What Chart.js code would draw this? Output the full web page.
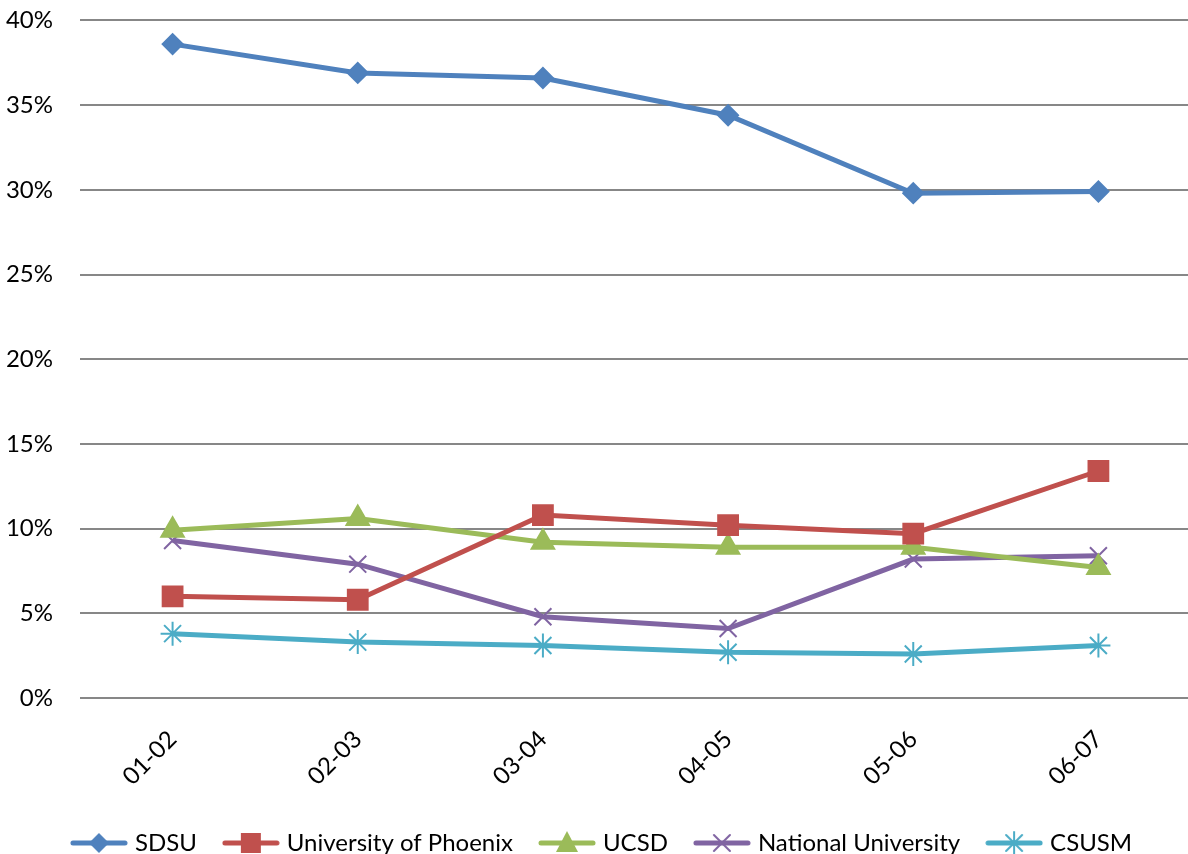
<!DOCTYPE html>
<html>
<head>
<meta charset="utf-8">
<script src="https://cdn.jsdelivr.net/npm/chart.js@4/dist/chart.umd.min.js"></script>
<style>
  html, body { margin: 0; padding: 0; background: #fff; overflow: hidden; }
  #wrap { width: 1188px; height: 854px; overflow: hidden; }
  #lineChart { display: block; margin-top: -21px; }
</style>
</head>
<body>
<div id="wrap"><canvas id="lineChart" width="1207" height="875"></canvas></div>
<script>
const years = ["01-02", "02-03", "03-04", "04-05", "05-06", "06-07"];
const sdsu = [38.6, 36.9, 36.6, 34.4, 29.8, 29.9];
const phoenix = [6.0, 5.8, 10.8, 10.2, 9.7, 13.4];
const ucsd = [9.9, 10.6, 9.2, 8.9, 8.9, 7.7];
const national = [9.3, 7.9, 4.8, 4.1, 8.2, 8.4];
const csusm = [3.8, 3.3, 3.1, 2.7, 2.6, 3.1];
const yTicks = [0, 5, 10, 15, 20, 25, 30, 35, 40];

const FONT = "Lato, 'Open Sans', Arial, sans-serif";

// legend icon: short line with the marker in the middle
function legendIcon(color, style) {
    const c = document.createElement('canvas');
    c.width = 58; c.height = 26;
    const g = c.getContext('2d');
    const cx = 29, cy = 13;
    g.strokeStyle = color;
    g.fillStyle = color;
    g.lineWidth = 5;
    g.lineCap = 'round';
    g.beginPath(); g.moveTo(3, cy); g.lineTo(55, cy); g.stroke();
    g.lineWidth = 2;
    g.beginPath();
    if (style === 'rectRot') {
        g.moveTo(cx, cy - 10); g.lineTo(cx + 10, cy); g.lineTo(cx, cy + 10); g.lineTo(cx - 10, cy); g.closePath(); g.fill();
    } else if (style === 'rect') {
        g.fillRect(cx - 10, cy - 10, 20, 20);
    } else if (style === 'triangle') {
        g.moveTo(cx, cy - 12); g.lineTo(cx + 11, cy + 9); g.lineTo(cx - 11, cy + 9); g.closePath(); g.fill();
    } else if (style === 'crossRot') {
        g.moveTo(cx - 8, cy - 8); g.lineTo(cx + 8, cy + 8);
        g.moveTo(cx + 8, cy - 8); g.lineTo(cx - 8, cy + 8); g.stroke();
    } else if (style === 'star') {
        g.moveTo(cx - 8, cy - 8); g.lineTo(cx + 8, cy + 8);
        g.moveTo(cx + 8, cy - 8); g.lineTo(cx - 8, cy + 8);
        g.moveTo(cx, cy - 11); g.lineTo(cx, cy + 11); g.stroke();
    }
    return c;
}

function series(label, data, color, style, radius) {
    return {
        label: label,
        data: data,
        borderColor: color,
        backgroundColor: color,
        borderWidth: 5,
        pointStyle: style,
        pointRadius: radius,
        pointBorderWidth: 2,
        pointBorderColor: color,
        pointBackgroundColor: color,
        tension: 0,
        icon: legendIcon(color, style)
    };
}

const ctx = document.getElementById('lineChart').getContext('2d');
new Chart(ctx, {
    type: 'line',
    data: {
        labels: years,
        datasets: [
            series('SDSU', sdsu, '#4F81BD', 'rectRot', 10),
            series('University of Phoenix', phoenix, '#C0504D', 'rect', 14),
            series('UCSD', ucsd, '#9BBB59', 'triangle', 13),
            series('National University', national, '#8064A2', 'crossRot', 12),
            series('CSUSM', csusm, '#4BACC6', 'star', 12)
        ]
    },
    options: {
        responsive: false,
        animation: false,
        layout: { padding: { top: 0, left: 0, right: 0, bottom: -11 } },
        scales: {
            y: {
                min: 0,
                max: 40,
                afterBuildTicks: axis => { axis.ticks = yTicks.map(v => ({ value: v })); },
                afterFit: axis => { axis.width = 80; },
                border: { display: false },
                grid: { color: '#878787', lineWidth: 2, drawTicks: false },
                ticks: {
                    padding: 27,
                    color: '#000',
                    font: { size: 24, family: FONT },
                    callback: v => v + '%'
                }
            },
            x: {
                offset: true,
                afterFit: axis => { axis.height = 103; },
                border: { display: false },
                grid: { display: false },
                ticks: {
                    minRotation: 45,
                    maxRotation: 45,
                    padding: 19,
                    color: '#000',
                    font: { size: 24, family: FONT }
                }
            }
        },
        plugins: {
            legend: {
                position: 'bottom',
                labels: {
                    usePointStyle: true,
                    pointStyleWidth: 48,
                    padding: 30,
                    color: '#000',
                    font: { size: 24, family: FONT },
                    generateLabels: chart => chart.data.datasets.map((ds, i) => ({
                        text: ds.label,
                        pointStyle: ds.icon,
                        fillStyle: ds.borderColor,
                        strokeStyle: ds.borderColor,
                        lineWidth: 0,
                        hidden: false,
                        datasetIndex: i
                    }))
                }
            },
            tooltip: { enabled: false }
        }
    }
});
</script>
</body>
</html>
